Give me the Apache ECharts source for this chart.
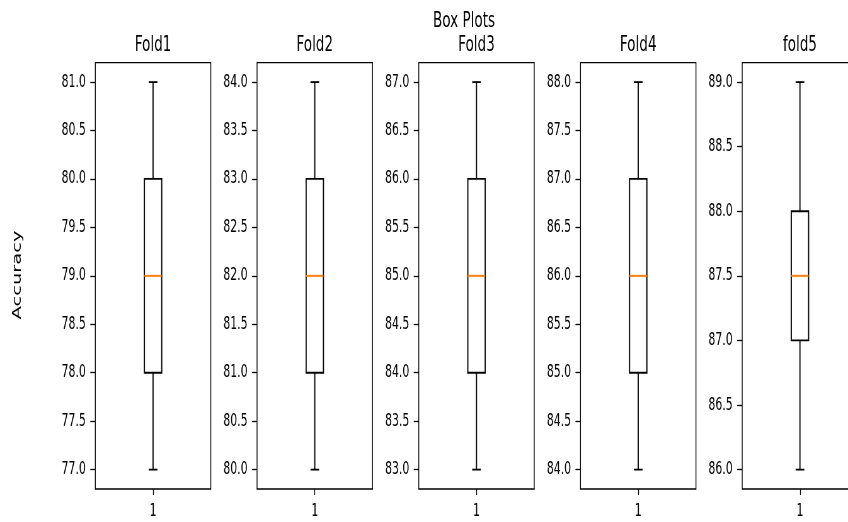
<!DOCTYPE html>
<html><head><meta charset="utf-8">
<script src="https://cdn.jsdelivr.net/npm/echarts@6/dist/echarts.min.js"></script>
<style>
html,body{margin:0;padding:0;overflow:hidden;background:#fff;width:848px;height:522px}
#wrap{width:848px;height:522px;overflow:hidden;position:relative}
#chart{width:1420px;height:522px;transform:scaleX(0.63);transform-origin:0 0;}
</style></head><body><div id="wrap"><div id="chart"></div></div>
<script>
// ---- data ----
const suptitle = 'Box Plots';
const yLabel = 'Accuracy';
const foldNames = ['Fold1', 'Fold2', 'Fold3', 'Fold4', 'fold5'];
const categories = ['1'];
const whiskerLow  = [77, 80, 83, 84, 86];
const q1          = [78, 81, 84, 85, 87];
const medians     = [79, 82, 85, 86, 87.5];
const q3          = [80, 83, 86, 87, 88];
const whiskerHigh = [81, 84, 87, 88, 89];
const tickLabels = [
  ['77.0','77.5','78.0','78.5','79.0','79.5','80.0','80.5','81.0'],
  ['80.0','80.5','81.0','81.5','82.0','82.5','83.0','83.5','84.0'],
  ['83.0','83.5','84.0','84.5','85.0','85.5','86.0','86.5','87.0'],
  ['84.0','84.5','85.0','85.5','86.0','86.5','87.0','87.5','88.0'],
  ['86.0','86.5','87.0','87.5','88.0','88.5','89.0']
];

// ---- layout (pre-transform px) ----
const PANEL_LEFT = 151.3, PANEL_STEP = 256.7, PANEL_W = 183.3, PANEL_TOP = 62.7, PANEL_H = 426.3;
const FONT = 'DejaVu Sans';
const TICK_FS = 17.3, TITLE_FS = 21.5;

const chart = echarts.init(document.getElementById('chart'), null, {renderer: 'canvas'});

const grids = [], xAxes = [], yAxes = [], series = [], graphics = [];
foldNames.forEach((name, i) => {
  const left = PANEL_LEFT + i * PANEL_STEP;
  grids.push({left: left, top: PANEL_TOP, width: PANEL_W, height: PANEL_H, show: true,
    borderColor: '#000', borderWidth: 1.3, backgroundColor: 'transparent', containLabel: false});
  xAxes.push({type: 'category', gridIndex: i, data: categories, boundaryGap: true,
    axisLine: {show: false}, splitLine: {show: false},
    axisTick: {show: true, alignWithLabel: true, length: 6, lineStyle: {color: '#000', width: 1.3}},
    axisLabel: {fontSize: TICK_FS, fontFamily: FONT, color: '#000', margin: 14}});
  const lo = whiskerLow[i], hi = whiskerHigh[i], pad = (hi - lo) * 0.05;
  const labels = tickLabels[i];
  const vals = labels.map(Number);
  yAxes.push({type: 'value', gridIndex: i, min: lo - pad, max: hi + pad,
    axisLine: {show: false}, splitLine: {show: false},
    axisTick: {show: true, length: 8, lineStyle: {color: '#000', width: 1.3}, customValues: vals},
    axisLabel: {customValues: vals, fontSize: TICK_FS, fontFamily: FONT, color: '#000', margin: 15,
      formatter: v => { const k = vals.indexOf(v); return k >= 0 ? labels[k] : ''; }}});
  series.push({type: 'custom', xAxisIndex: i, yAxisIndex: i, silent: true,
    data: [[0, whiskerLow[i], q1[i], medians[i], q3[i], whiskerHigh[i]]],
    encode: {x: 0, y: [1, 2, 3, 4, 5]},
    renderItem: (params, api) => {
      const x = api.value(0);
      const band = api.size([1, 0])[0];
      const bw = band * 0.15, cw = bw / 2;
      const pLo = api.coord([x, api.value(1)]);
      const pQ1 = api.coord([x, api.value(2)]);
      const pMed = api.coord([x, api.value(3)]);
      const pQ3 = api.coord([x, api.value(4)]);
      const pHi = api.coord([x, api.value(5)]);
      const cx = pLo[0];
      const st = {stroke: '#000', lineWidth: 1.8, fill: null};
      return {type: 'group', children: [
        {type: 'line', shape: {x1: cx, y1: pLo[1], x2: cx, y2: pQ1[1]}, style: st},
        {type: 'line', shape: {x1: cx, y1: pQ3[1], x2: cx, y2: pHi[1]}, style: st},
        {type: 'line', shape: {x1: cx - cw / 2, y1: pLo[1], x2: cx + cw / 2, y2: pLo[1]}, style: st},
        {type: 'line', shape: {x1: cx - cw / 2, y1: pHi[1], x2: cx + cw / 2, y2: pHi[1]}, style: st},
        {type: 'rect', shape: {x: cx - bw / 2, y: pQ3[1], width: bw, height: pQ1[1] - pQ3[1]},
          style: {stroke: '#000', lineWidth: 1.8, fill: 'rgba(0,0,0,0)'}},
        {type: 'line', shape: {x1: cx - bw / 2, y1: pMed[1], x2: cx + bw / 2, y2: pMed[1]},
          style: {stroke: '#ff7f0e', lineWidth: 2, fill: null}}
      ]};
    }});
  graphics.push({type: 'text', x: left + PANEL_W / 2, y: 45, silent: true,
    style: {text: name, fontSize: TITLE_FS, fontFamily: FONT, fill: '#000', textAlign: 'center', textVerticalAlign: 'middle'}});
});
graphics.push({type: 'text', x: 736.5, y: 21, silent: true,
  style: {text: suptitle, fontSize: TITLE_FS, fontFamily: FONT, fill: '#000', textAlign: 'center', textVerticalAlign: 'middle'}});
graphics.push({type: 'text', x: 27.8, y: 275, rotation: Math.PI / 2, silent: true,
  style: {text: yLabel, fontSize: 19.5, fontFamily: FONT, fill: '#000', textAlign: 'center', textVerticalAlign: 'middle'}});

chart.setOption({
  animation: false,
  backgroundColor: '#fff',
  grid: grids, xAxis: xAxes, yAxis: yAxes, series: series, graphic: graphics
});
</script></body></html>
